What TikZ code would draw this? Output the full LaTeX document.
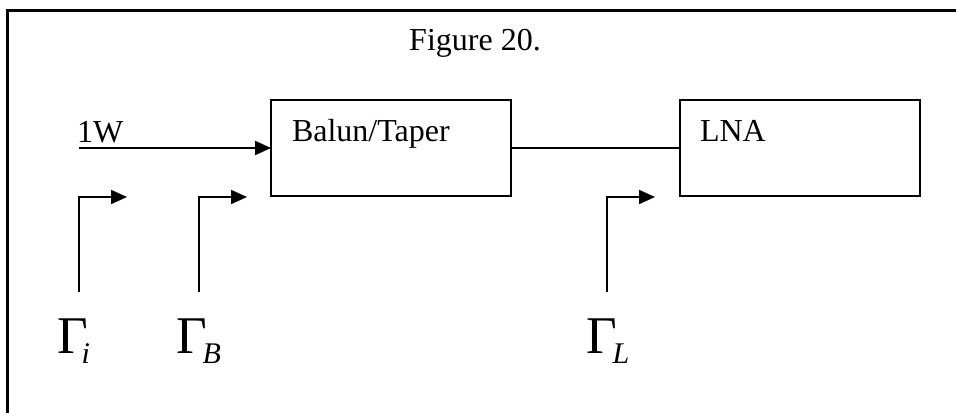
\documentclass[tikz,border=0pt]{standalone}
\usepackage{fontspec}
\setmainfont{Liberation Serif}
\usetikzlibrary{arrows.meta,calc}
\tikzset{
  block/.style={draw, line width=1pt, minimum width=120pt, minimum height=48pt, inner sep=0pt, outer sep=0pt},
  wire/.style={line width=1pt},
  tip/.style={wire, -{Triangle[length=8pt,width=7pt]}},
  lbl/.style={inner sep=0pt, outer sep=0pt, font=\fontsize{16}{19}\selectfont},
  gam/.style={inner sep=0pt, outer sep=0pt, anchor=base west, font=\fontsize{26.5}{30}\selectfont},
}
\newcommand{\gsub}[2][2pt]{\kern-#1\raisebox{-5pt}{\fontsize{15}{18}\selectfont\itshape #2}}
\begin{document}
\begin{tikzpicture}[x=0.5pt,y=-0.5pt]
  \useasboundingbox (0,0) rectangle (956,412);
  \begin{scope}
    \clip (0,0) rectangle (956,412);
    \draw[line width=1.5pt] (7,10) rectangle (1000,460);
  \end{scope}

  \node[lbl, anchor=base] (title) at (475,50) {Figure 20.};

  % blocks
  \node[block] (balun) at (391,148) {};
  \node[block] (lna) at (800,148) {};
  \node[lbl, anchor=base west] (balunt) at ($(balun.north west)+(21,41)$) {Balun/Taper};
  \node[lbl, anchor=base west] (lnat) at ($(lna.north west)+(20,41)$) {LNA};

  % input and interconnect
  \coordinate (src) at (79,148);
  \node[lbl, anchor=base west] (pw) at (77,142) {1W};
  \draw[tip] (src) -- (balun.west);
  \draw[wire] (balun.east) -- (lna.west);

  % reflection reference planes
  \coordinate (gi0) at (79,292);   \coordinate (gi1) at (127,197);
  \coordinate (gb0) at (199,292);  \coordinate (gb1) at (247,197);
  \coordinate (gl0) at (607,292);  \coordinate (gl1) at (655,197);
  \draw[tip] (gi0) |- (gi1);
  \draw[tip] (gb0) |- (gb1);
  \draw[tip] (gl0) |- (gl1);

  \node[gam] (gi) at (57,353) {Γ\gsub[3pt]{i}};
  \node[gam] (gb) at (176,353) {Γ\gsub{B}};
  \node[gam] (gl) at (586,353) {Γ\gsub{L}};
\end{tikzpicture}
\end{document}
